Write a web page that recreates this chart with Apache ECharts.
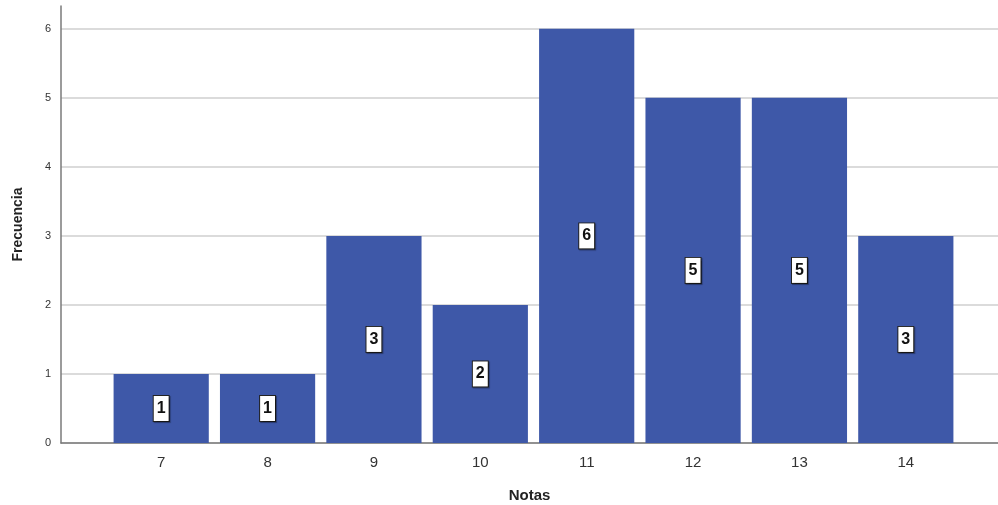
<!DOCTYPE html>
<html>
<head>
<meta charset="utf-8">
<script src="https://cdn.jsdelivr.net/npm/echarts@6/dist/echarts.min.js"></script>
<style>html,body{margin:0;padding:0;background:#fff}#c{width:998px;height:505px}</style>
</head>
<body>
<div id="c"></div>
<script>
const categories = ['7', '8', '9', '10', '11', '12', '13', '14'];
const frecuencia = [1, 1, 3, 2, 6, 5, 5, 3];
const yTicks = [0, 1, 2, 3, 4, 5, 6];

const chart = echarts.init(document.getElementById('c'));
const font = 'Arial, "Liberation Sans", sans-serif';
const yMax = 6.33;
chart.setOption({
  animation: false,
  grid: [
    {left: 61, right: 0, top: 6, bottom: 62, containLabel: false, outerBoundsMode: 'none'},
    {left: 108, right: 39, top: 6, bottom: 62, containLabel: false, outerBoundsMode: 'none'}
  ],
  xAxis: [
    {gridIndex: 0, type: 'value', min: 0, max: 1, axisLabel: {show: false}, axisTick: {show: false}, splitLine: {show: false},
     axisLine: {show: true, lineStyle: {color: '#7a7a7a', width: 1.5}},
     name: 'Notas', nameLocation: 'middle', nameGap: 45,
     nameTextStyle: {fontFamily: font, fontSize: 15, fontWeight: 'bold', color: '#222'}},
    {gridIndex: 1, type: 'category', data: categories, axisLine: {show: false}, axisTick: {show: false},
     axisLabel: {fontFamily: font, fontSize: 15, color: '#333', margin: 12}}
  ],
  yAxis: [
    {gridIndex: 0, type: 'value', min: 0, max: yMax, interval: 1,
     axisLine: {show: true, lineStyle: {color: '#7a7a7a', width: 1.5}}, axisTick: {show: false},
     axisLabel: {fontFamily: font, fontSize: 11, color: '#333', margin: 10, showMaxLabel: false,
       formatter: v => yTicks.includes(v) ? String(v) : ''},
     splitLine: {show: true, showMaxLine: false, lineStyle: {color: '#cfcfcf', width: 1.5}},
     name: 'Frecuencia', nameLocation: 'middle', nameGap: 36, nameRotate: 90,
     nameTextStyle: {fontFamily: font, fontSize: 14, fontWeight: 'bold', color: '#222'}},
    {gridIndex: 1, type: 'value', min: 0, max: yMax, interval: 1, show: false, splitLine: {show: false}}
  ],
  series: [{
    type: 'bar', xAxisIndex: 1, yAxisIndex: 1, data: frecuencia,
    barCategoryGap: '10.5%',
    itemStyle: {color: '#3e58a8'},
    label: {show: true, position: 'inside', fontFamily: font, fontSize: 16, fontWeight: 'bold', color: '#111',
      backgroundColor: '#fff', borderColor: '#222', borderWidth: 1, padding: [5, 3, 4, 3],
      shadowColor: 'rgba(0,0,0,0.35)', shadowOffsetX: 1, shadowOffsetY: 1, shadowBlur: 1}
  }]
});
</script>
</body>
</html>
